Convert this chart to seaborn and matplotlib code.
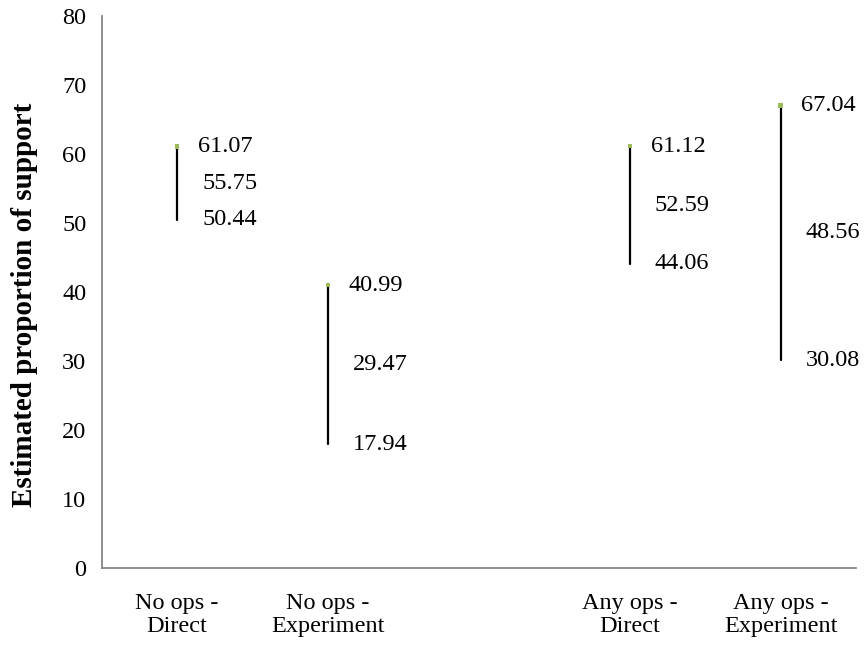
import numpy as np
import pandas as pd
import matplotlib
matplotlib.use("Agg")
import matplotlib.pyplot as plt
import seaborn as sns

# Categories (the blank one keeps the gap between the two groups)
categories = ["No ops -\nDirect", "No ops -\nExperiment", "",
              "Any ops -\nDirect", "Any ops -\nExperiment"]
highs = [61.07, 40.99, np.nan, 61.12, 67.04]
mids = [55.75, 29.47, np.nan, 52.59, 48.56]
lows = [50.44, 17.94, np.nan, 44.06, 30.08]
y_ticks = [0, 10, 20, 30, 40, 50, 60, 70, 80]

sns.set_theme(style="white")
plt.rcParams["font.family"] = ["Liberation Serif", "DejaVu Serif"]

fig = plt.figure(figsize=(8.66, 6.48), dpi=100)
ax = fig.add_axes([0.1174, 0.1235, 0.8711, 0.8518])

pos = np.arange(len(categories))
long = pd.DataFrame({
    "pos": np.concatenate([pos, pos]),
    "value": highs + lows,
    "cat": categories + categories,
}).dropna()

# high-low range lines
sns.lineplot(data=long, x="pos", y="value", units="cat", estimator=None,
             color="black", linewidth=1.6, sort=False, ax=ax, legend=False)

# high markers
top = pd.DataFrame({"pos": pos, "value": highs}).dropna()
sns.scatterplot(data=top, x="pos", y="value", marker="s", s=10,
                color="#9BBB59", edgecolor="none", ax=ax, legend=False, zorder=3)

# value labels
fs = 17.5
for x, h, m, l in zip(pos, highs, mids, lows):
    if np.isnan(h):
        continue
    ax.annotate(f"{h:.2f}", (x, h), xytext=(15, 0), textcoords="offset points",
                va="center", ha="left", fontsize=fs, color="black")
    ax.annotate(f"{m:.2f}", (x, m), xytext=(18, 0), textcoords="offset points",
                va="center", ha="left", fontsize=fs, color="black")
    ax.annotate(f"{l:.2f}", (x, l), xytext=(18, 0), textcoords="offset points",
                va="center", ha="left", fontsize=fs, color="black")

ax.set_xlim(-0.5, len(categories) - 0.5)
ax.set_ylim(0, 80)
ax.set_yticks(y_ticks)
ax.set_yticklabels([str(t) for t in y_ticks], fontsize=fs, color="black")
ax.set_xticks(pos)
ax.set_xticklabels(categories, fontsize=fs, linespacing=1.15, color="black")
ax.tick_params(axis="x", length=0, pad=18)
ax.tick_params(axis="y", length=0, pad=11)
ax.set_xlabel("")
ax.set_ylabel("Estimated proportion of support", fontsize=21, fontweight="bold",
              color="black")
ax.yaxis.set_label_coords(-0.085, 0.476)

for side in ["top", "right"]:
    ax.spines[side].set_visible(False)
for side in ["left", "bottom"]:
    ax.spines[side].set_color("#868686")
    ax.spines[side].set_linewidth(1.3)

fig.savefig("out.png", dpi=100)
